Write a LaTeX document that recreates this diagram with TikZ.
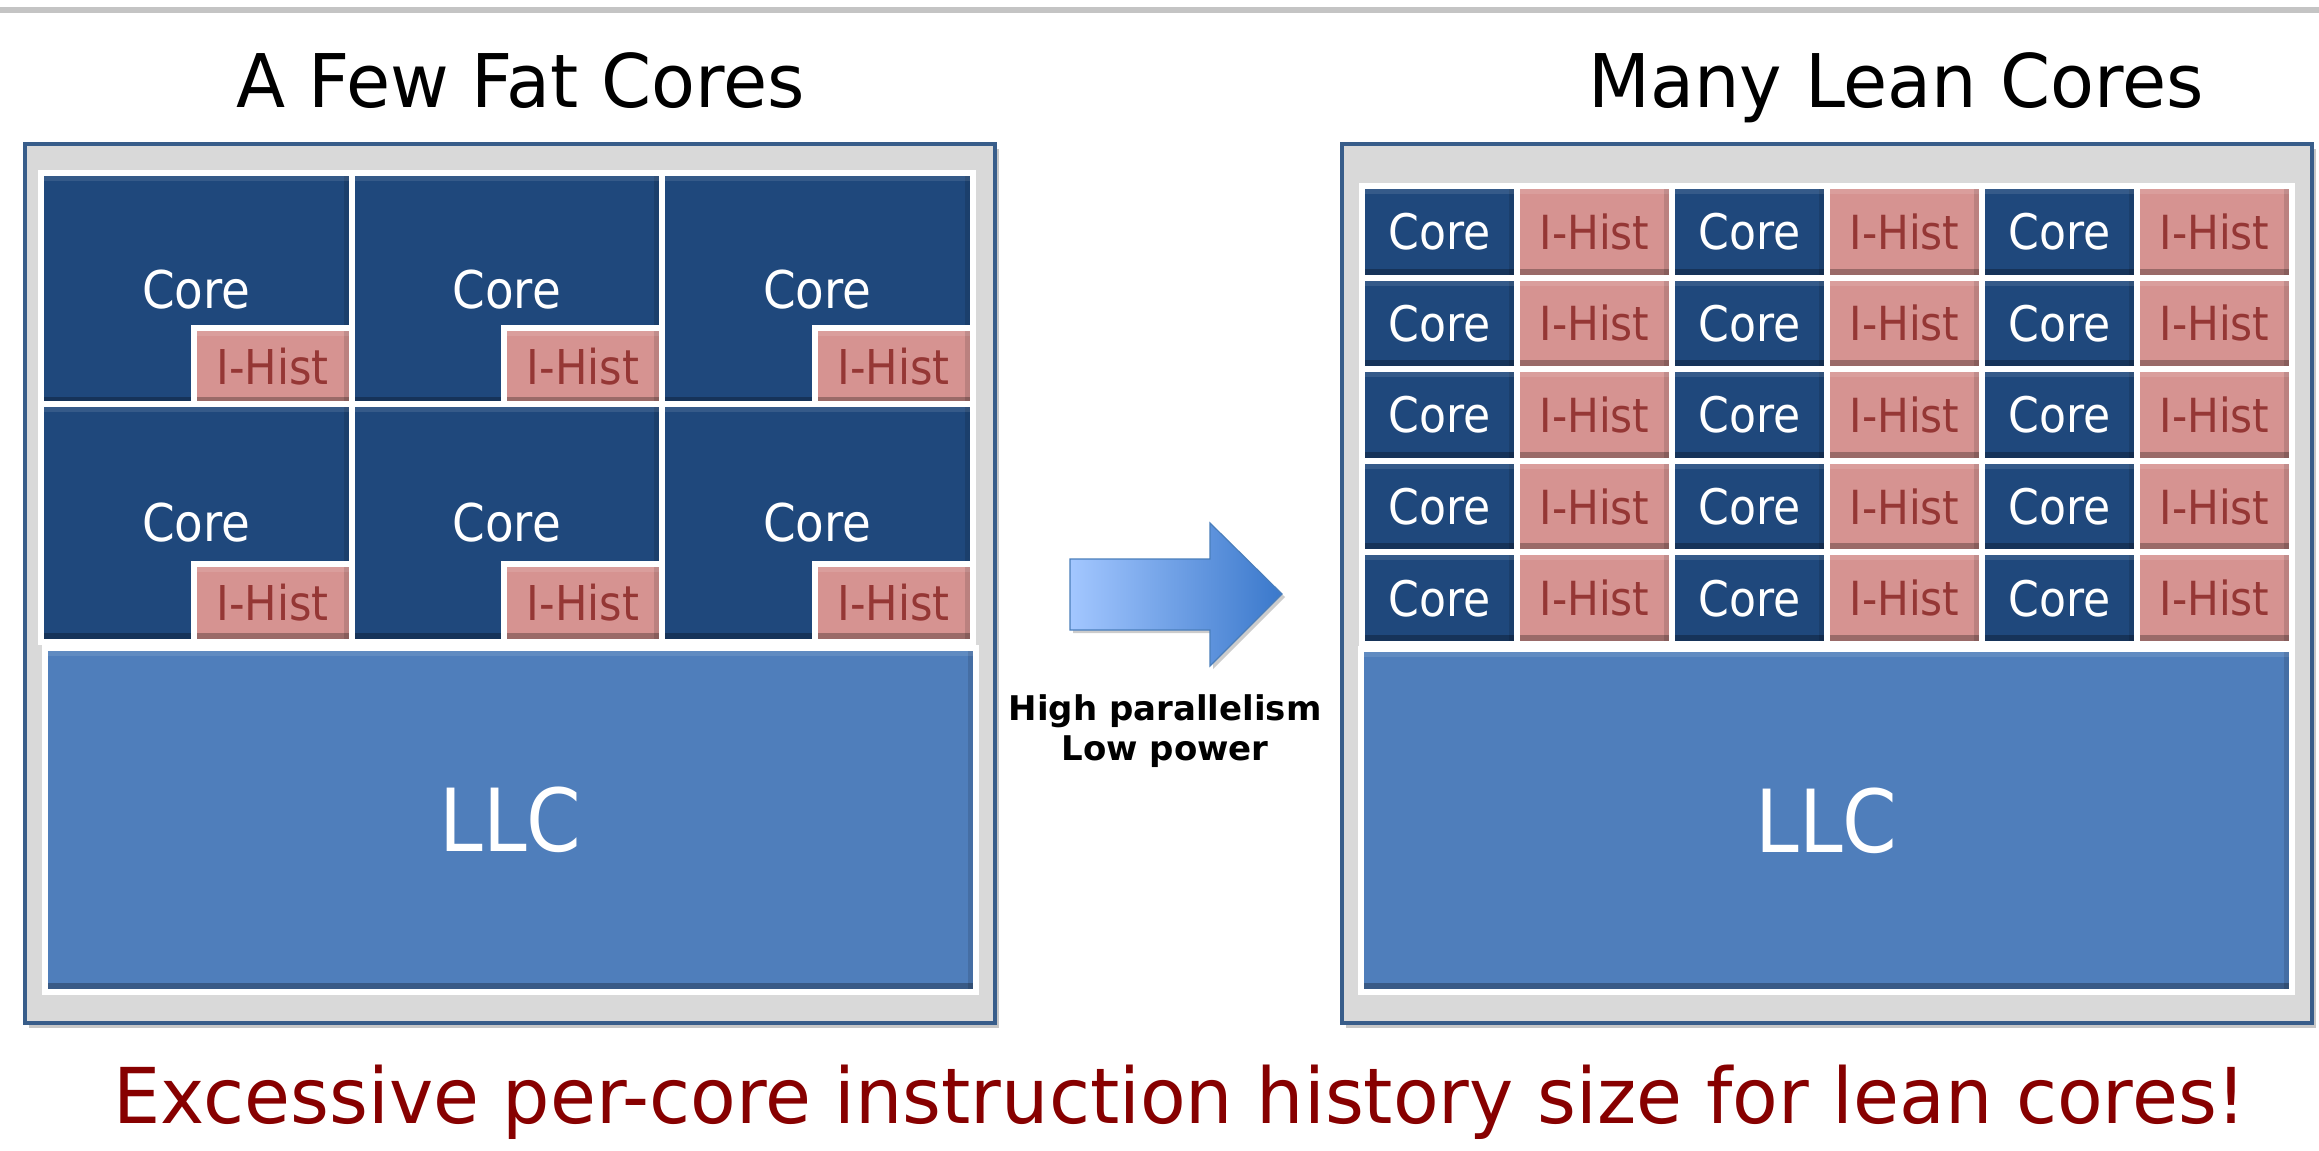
\documentclass[tikz,border=0pt]{standalone}
\usepackage{fontspec}
\setmainfont{DejaVu Sans}
\newfontfamily\cellfont[FakeStretch=0.9]{DejaVu Sans}
\newfontfamily\titlefont[FakeStretch=0.97]{DejaVu Sans}
\usetikzlibrary{shadows}
\definecolor{coreblue}{HTML}{1F487C}
\definecolor{llcblue}{HTML}{4F7EBB}
\definecolor{ihpink}{HTML}{D69391}
\definecolor{ihtext}{HTML}{953735}
\definecolor{chipgray}{HTML}{D9D9D9}
\definecolor{chipedge}{HTML}{385D8A}
\definecolor{arrL}{HTML}{A3C7FF}
\definecolor{arrR}{HTML}{3A78CB}
\definecolor{arrD}{HTML}{4A7EBB}
\definecolor{msgred}{RGB}{135,0,0}
\definecolor{rulegray}{HTML}{C4C4C4}
\tikzset{
  bevel/.style={path picture={
    \fill[black,opacity=0.28] ([yshift=9pt]path picture bounding box.south west) rectangle (path picture bounding box.south east);
    \fill[black,opacity=0.12] ([xshift=-8pt]path picture bounding box.north east) rectangle (path picture bounding box.south east);
    \fill[white,opacity=0.10] ([yshift=-8pt]path picture bounding box.north west) rectangle (path picture bounding box.north east);
  }},
  boxbase/.style={rectangle, draw=white, line width=6pt, inner sep=0pt, outer sep=0pt, bevel},
  fatcore/.style={boxbase, anchor=north west, fill=coreblue, text=white,
    minimum width=310.5pt, font=\cellfont\fontsize{52}{52}\selectfont},
  fatih/.style={boxbase, anchor=south east, fill=ihpink, text=ihtext,
    minimum width=158pt, minimum height=78pt, font=\cellfont\fontsize{48}{48}\selectfont},
  leancore/.style={boxbase, anchor=north west, fill=coreblue, text=white,
    minimum width=155pt, minimum height=91.6pt, font=\cellfont\fontsize{49}{49}\selectfont},
  leanih/.style={boxbase, anchor=north west, fill=ihpink, text=ihtext,
    minimum width=155pt, minimum height=91.6pt, font=\cellfont\fontsize{47}{47}\selectfont},
  llc/.style={boxbase, anchor=north west, fill=llcblue, text=white,
    minimum width=931pt, font=\cellfont\fontsize{87}{87}\selectfont},
  chip/.style={rectangle, anchor=north west, fill=chipgray, draw=chipedge, line width=4pt,
    inner sep=0pt, minimum width=970pt, minimum height=879pt,
    drop shadow={shadow xshift=4pt, shadow yshift=-5pt, opacity=0.22, fill=black}},
  title/.style={anchor=base, font=\titlefont\fontsize{74}{74}\selectfont, text=black},
  hp/.style={anchor=base, font=\bfseries\fontsize{34}{34}\selectfont, text=black},
  msg/.style={anchor=base, font=\titlefont\fontsize{77}{77}\selectfont, text=msgred},
  rule/.style={draw=rulegray, line width=6pt}
}
\begin{document}
\begin{tikzpicture}[x=1pt,y=-1pt]
\useasboundingbox (0,0) rectangle (2319,1151);
\fill[white] (0,0) rectangle (2319,1151);
% top rule
\coordinate (rl) at (0,10);
\coordinate (rr) at (2319,10);
\draw[rule] (rl) -- (rr);
% titles
\node[title] (tl) at (521,107) {A Few Fat Cores};
\node[title] (tr) at (1896,107) {Many Lean Cores};
% chips
\node[chip] (chipL) at (23,142) {};
\node[chip] (chipR) at (1340,142) {};
% LLCs
\node[llc, minimum height=344pt] (llcL) at (45,648) {LLC};
\node[llc, minimum height=343pt] (llcR) at (1361,649) {LLC};
% fat cores
\foreach \r/\y/\h in {0/173/233, 1/404/238} {
  \foreach \c in {0,1,2} {
    \pgfmathsetmacro{\xx}{41+310.5*\c}
    \node[fatcore, minimum height=\h pt] (fc-\r-\c) at (\xx,\y) {Core};
    \node[fatih] (fi-\r-\c) at (fc-\r-\c.south east) {I-Hist};
  }
}
% lean cores
\foreach \r in {0,...,4} {
  \pgfmathsetmacro{\yy}{186+91.6*\r}
  \foreach \c in {0,2,4} {
    \pgfmathsetmacro{\xx}{1362+155*\c}
    \node[leancore] (lc-\r-\c) at (\xx,\yy) {Core};
  }
  \foreach \c in {1,3,5} {
    \pgfmathsetmacro{\xx}{1362+155*\c}
    \node[leanih] (li-\r-\c) at (\xx,\yy) {I-Hist};
  }
}
% arrow
\shadedraw[left color=arrL, right color=arrR, draw=arrD, line width=1.2pt,
  drop shadow={shadow xshift=3pt, shadow yshift=-3pt, opacity=0.2, fill=black}]
  (1070,559) -- (1210,559) -- (1210,523) -- (1282,594) -- (1210,666) -- (1210,630) -- (1070,630) -- cycle;
\node[hp] (hpar) at (1165,720) {High parallelism};
\node[hp] (lpow) at (1165,760) {Low power};
% message
\node[msg] (msg) at (1180,1123) {Excessive per-core instruction history size for lean cores!};
\end{tikzpicture}
\end{document}
